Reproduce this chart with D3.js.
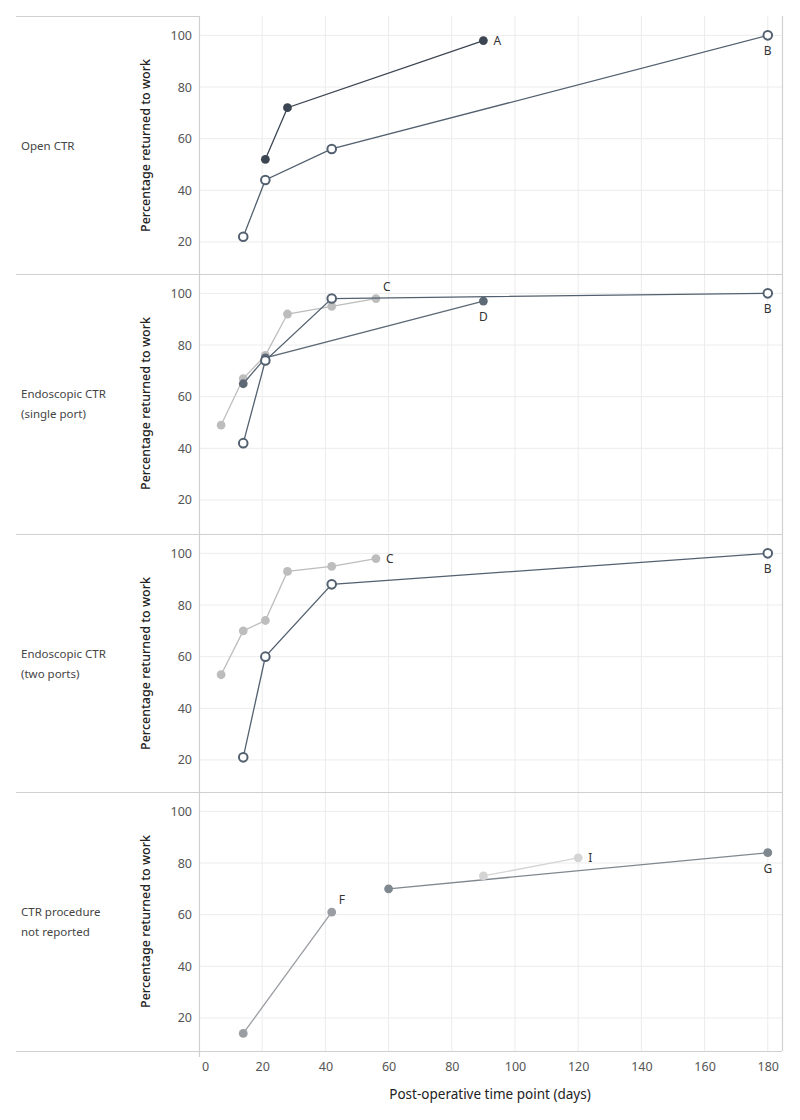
<!DOCTYPE html>
<html>
<head>
<meta charset="utf-8">
<script src="https://cdn.jsdelivr.net/npm/d3@7"></script>
<style>
  body { margin: 0; background: #fff; }
  svg { display: block; font-family: "Noto Sans", "DejaVu Sans", sans-serif; }
</style>
</head>
<body>
<svg id="chart" width="800" height="1120"></svg>
<script>
// ---------------- DATA ----------------
const panelLabels = [
  ["Open CTR"],
  ["Endoscopic CTR", "(single port)"],
  ["Endoscopic CTR", "(two ports)"],
  ["CTR procedure", "not reported"]
];
const xTicks = [0, 20, 40, 60, 80, 100, 120, 140, 160, 180];
const yTicks = [20, 40, 60, 80, 100];
const yTitle = "Percentage returned to work";
const xTitle = "Post-operative time point (days)";

// Panel 1: Open CTR
const p1A_days = [21, 28, 90];
const p1A_pct  = [52, 72, 98];
const p1B_days = [14, 21, 42, 180];
const p1B_pct  = [22, 44, 56, 100];
// Panel 2: Endoscopic single port
const p2C_days = [7, 14, 21, 28, 42, 56];
const p2C_pct  = [49, 67, 76, 92, 95, 98];
const p2D_days = [14, 21, 90];
const p2D_pct  = [65, 75, 97];
const p2B_days = [14, 21, 42, 180];
const p2B_pct  = [42, 74, 98, 100];
// Panel 3: Endoscopic two ports
const p3C_days = [7, 14, 21, 28, 42, 56];
const p3C_pct  = [53, 70, 74, 93, 95, 98];
const p3B_days = [14, 21, 42, 180];
const p3B_pct  = [21, 60, 88, 100];
// Panel 4: not reported
const p4F_days = [14, 42];
const p4F_pct  = [14, 61];
const p4G_days = [60, 180];
const p4G_pct  = [70, 84];
const p4I_days = [90, 120];
const p4I_pct  = [75, 82];

// series table
const series = [
  {panel: 0, name: "A", days: p1A_days, pct: p1A_pct, color: "#3b4652", open: false, pos: "right"},
  {panel: 0, name: "B", days: p1B_days, pct: p1B_pct, color: "#53606f", open: true,  pos: "below"},
  {panel: 1, name: "C", days: p2C_days, pct: p2C_pct, color: "#bdbdbd", open: false, pos: "aboveright"},
  {panel: 1, name: "D", days: p2D_days, pct: p2D_pct, color: "#5d6975", open: false, pos: "below"},
  {panel: 1, name: "B", days: p2B_days, pct: p2B_pct, color: "#53606f", open: true,  pos: "below"},
  {panel: 2, name: "C", days: p3C_days, pct: p3C_pct, color: "#bdbdbd", open: false, pos: "right"},
  {panel: 2, name: "B", days: p3B_days, pct: p3B_pct, color: "#53606f", open: true,  pos: "below"},
  {panel: 3, name: "F", days: p4F_days, pct: p4F_pct, color: "#9a9ea3", open: false, pos: "aboveright"},
  {panel: 3, name: "G", days: p4G_days, pct: p4G_pct, color: "#7f878f", open: false, pos: "below"},
  {panel: 3, name: "I", days: p4I_days, pct: p4I_pct, color: "#d4d4d4", open: false, pos: "right"}
];

// ---------------- LAYOUT ----------------
const svg = d3.select("#chart");
const plotLeft = 199, plotRight = 782;
const panelTops = [16, 274, 534, 792];
const panelH = 259;
const bottom = panelTops[3] + panelH;
const gridColor = "#ececec";
const borderColor = "#d0d0d0";

const x = d3.scaleLinear().domain([0, 184.5]).range([plotLeft, plotRight]);
const yFor = i => d3.scaleLinear().domain([7.2, 107.5]).range([panelTops[i] + panelH, panelTops[i]]);

panelTops.forEach((top, i) => {
  const y = yFor(i);
  const g = svg.append("g");
  g.selectAll("line.vg").data(xTicks.filter(d => d > 0)).join("line")
    .attr("x1", d => x(d)).attr("x2", d => x(d))
    .attr("y1", top).attr("y2", top + panelH)
    .attr("stroke", gridColor).attr("stroke-width", 1);
  g.selectAll("line.hg").data(yTicks).join("line")
    .attr("x1", plotLeft).attr("x2", plotRight)
    .attr("y1", d => y(d)).attr("y2", d => y(d))
    .attr("stroke", gridColor).attr("stroke-width", 1);
  const ax = d3.axisLeft(y).tickValues(yTicks).tickSize(0).tickPadding(7);
  const axg = svg.append("g").attr("transform", `translate(${plotLeft},0)`).call(ax);
  axg.select(".domain").remove();
  axg.selectAll("text").attr("font-size", 12.5).attr("fill", "#555")
    .attr("font-family", "\"Noto Sans\", sans-serif");
  svg.append("text")
    .attr("transform", `translate(150,${top + panelH / 2}) rotate(-90)`)
    .attr("text-anchor", "middle")
    .attr("font-size", 12.5).attr("font-weight", 500).attr("fill", "#222")
    .text(yTitle);
  const lbl = svg.append("text").attr("x", 21)
    .attr("y", top + panelH / 2 - (panelLabels[i].length - 1) * 10 + 4)
    .attr("font-size", 11.5).attr("fill", "#444");
  panelLabels[i].forEach((t, k) => {
    lbl.append("tspan").attr("x", 21).attr("dy", k === 0 ? 0 : 20).text(t);
  });
});

// panel borders
svg.append("g").selectAll("line").data(panelTops.slice(1).concat([bottom])).join("line")
  .attr("x1", 16).attr("x2", plotRight)
  .attr("y1", d => d + 0.5).attr("y2", d => d + 0.5)
  .attr("stroke", borderColor).attr("stroke-width", 1.2);
svg.append("line").attr("x1", 16).attr("x2", plotLeft)
  .attr("y1", panelTops[0] + 0.5).attr("y2", panelTops[0] + 0.5)
  .attr("stroke", borderColor).attr("stroke-width", 1.2);
svg.append("line").attr("x1", plotLeft + 0.5).attr("x2", plotLeft + 0.5)
  .attr("y1", panelTops[0]).attr("y2", bottom + 6)
  .attr("stroke", borderColor).attr("stroke-width", 1.2);
svg.append("line").attr("x1", plotRight + 0.5).attr("x2", plotRight + 0.5)
  .attr("y1", panelTops[0]).attr("y2", bottom)
  .attr("stroke", borderColor).attr("stroke-width", 1.2);

// x axis
const xa = d3.axisBottom(x).tickValues(xTicks).tickSize(0).tickPadding(11);
const xag = svg.append("g").attr("transform", `translate(0,${bottom})`).call(xa);
xag.select(".domain").remove();
xag.selectAll("text").attr("font-size", 12.5).attr("fill", "#555")
  .attr("font-family", "\"Noto Sans\", sans-serif");
xag.selectAll(".tick").filter(d => d === 0).select("text").attr("dx", 6);
svg.append("text").attr("x", 490).attr("y", 1099).attr("text-anchor", "middle")
  .attr("font-size", 13.5).attr("fill", "#222").text(xTitle);

// series
series.forEach(s => {
  const y = yFor(s.panel);
  const pts = s.days.map((d, k) => [d, s.pct[k]]);
  const line = d3.line().x(d => x(d[0])).y(d => y(d[1]));
  const g = svg.append("g");
  g.append("path").attr("d", line(pts)).attr("fill", "none")
    .attr("stroke", s.color).attr("stroke-width", 1.3);
  g.selectAll("circle").data(pts).join("circle")
    .attr("cx", d => x(d[0])).attr("cy", d => y(d[1]))
    .attr("r", s.open ? 4.3 : 4.4)
    .attr("fill", s.open ? "#fff" : s.color)
    .attr("stroke", s.color).attr("stroke-width", s.open ? 2 : 0);
  const last = pts[pts.length - 1];
  const lx = x(last[0]), ly = y(last[1]);
  let tx = lx, ty = ly, anchor = "middle";
  if (s.pos === "right") { tx = lx + 10; ty = ly + 4; anchor = "start"; }
  else if (s.pos === "below") { tx = lx; ty = ly + 20; }
  else if (s.pos === "aboveright") { tx = lx + 7; ty = ly - 8; anchor = "start"; }
  g.append("text").attr("x", tx).attr("y", ty).attr("text-anchor", anchor)
    .attr("font-size", 12).attr("fill", "#333").text(s.name);
});
</script>
</body>
</html>
